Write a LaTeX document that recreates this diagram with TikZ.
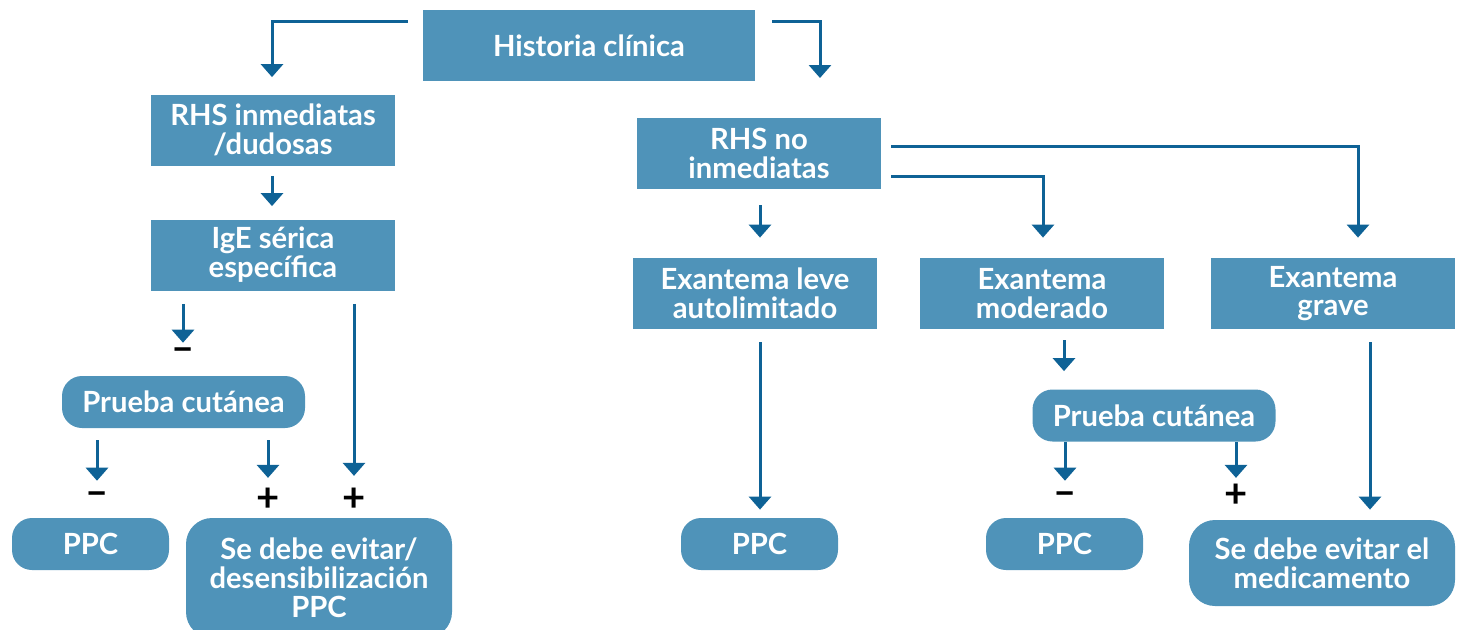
\documentclass[tikz,border=0pt]{standalone}
\usepackage{fontspec}
\setmainfont{Lato}
\usetikzlibrary{arrows.meta,calc,positioning}
\definecolor{boxblue}{RGB}{79,147,185}
\definecolor{arrblue}{RGB}{14,98,150}
\begin{document}
\begin{tikzpicture}[x=0.5pt,y=-0.5pt,
  every node/.style={font=\fontsize{14.6}{14.4}\selectfont\bfseries, text=white, align=center, inner sep=0pt},
  sqbox/.style={fill=boxblue, minimum width=122pt, minimum height=35.5pt},
  rbox/.style={fill=boxblue, rounded corners=10pt, minimum height=26pt},
  sign/.style={text=black, font=\fontsize{20}{20}\selectfont\bfseries},
  arr/.style={draw=arrblue, line width=1.5pt, -{Triangle[width=11pt,length=6.5pt]}},
  conn/.style={draw=arrblue, line width=1.5pt}
]
\useasboundingbox (0,0) rectangle (1458,629);

% nodes
\node[sqbox, minimum width=166pt] (hc) at (589,45.5) {Historia clínica};
\node[sqbox] (rhsi) at (273,130) {RHS inmediatas\\/dudosas};
\node[sqbox] (ige) at (273,255) {IgE sérica\\específica};
\node[rbox, minimum width=121.5pt] (pcl) at (183.5,402) {Prueba cutánea};
\node[rbox, minimum width=78.5pt] (ppcl) at (90.5,544) {PPC};
\node[rbox, minimum width=133pt, minimum height=60pt, rounded corners=13pt] (evl) at (319,578) {Se debe evitar/\\desensibilización\\PPC};

\node[sqbox] (rhsn) at (759,153.5) {RHS no\\inmediatas};
\node[sqbox] (leve) at (755,293.5) {Exantema leve\\autolimitado};
\node[sqbox] (mod) at (1042,293.5) {Exantema\\moderado};
\node[sqbox] (grave) at (1333,293.5) {Exantema\\grave};
\node[rbox, minimum width=78.5pt] (ppcm) at (759.5,544) {PPC};
\node[rbox, minimum width=121.5pt] (pcr) at (1154,415.5) {Prueba cutánea};
\node[rbox, minimum width=78.5pt] (ppcr) at (1064.5,544) {PPC};
\node[rbox, minimum width=133pt, minimum height=43pt, rounded corners=13pt] (evr) at (1322,563) {Se debe evitar el\\medicamento};

% signs
\node[sign] (m1) at (183,355) {–};
\node[sign] (m2) at (97,499) {–};
\node[sign] (p1) at (268,500) {+};
\node[sign] (p2) at (354,500) {+};
\node[sign] (m3) at (1065,499) {–};
\node[sign] (p3) at (1236,496) {+};

% connectors
\coordinate (hcR) at (820,78);
\draw[arr] ($(hc.north west)+(-15,12)$) -| ($(rhsi.north)+(-1,-17)$);
\draw[arr] ($(hc.north east)+(17,12)$) -| (hcR);
\draw[arr] ($(rhsi.south)+(-1,10)$) -- ($(ige.north)+(-1,-13)$);
\draw[arr] ($(ige.south)+(-90,13)$) -- ($(m1.north)+(0,-5)$);
\draw[arr] ($(ige.south)+(81,13)$) -- ($(p2.north)+(0,-12)$);
\draw[arr] ($(pcl.south)+(-86.5,12)$) -- ($(m2.north)+(0,-11)$);
\draw[arr] ($(pcl.south)+(84.5,12)$) -- ($(p1.north)+(0,-10)$);

\draw[conn, -{Triangle[width=11pt,length=6.5pt]}] ($(rhsn.east)+(10,-7.5)$) -| ($(grave.north)+(25,-20)$);
\draw[arr] ($(rhsn.east)+(10,22.5)$) -| ($(mod.north)+(1,-20)$);
\draw[arr] ($(rhsn.south)+(1,16)$) -- ($(leve.north)+(5,-20)$);
\draw[arr] ($(leve.south)+(5,13)$) -- ($(ppcm.north)+(0.5,-8)$);
\draw[arr] ($(mod.south)+(22,11)$) -- ($(pcr.north)+(-90,-18)$);
\draw[arr] ($(pcr.south)+(-89,0)$) -- ($(m3.north)+(0,-11)$);
\draw[arr] ($(pcr.south)+(82,0)$) -- ($(p3.north)+(0,-6)$);
\draw[arr] ($(grave.south)+(37,13)$) -- ($(evr.north)+(48,-10)$);
\end{tikzpicture}
\end{document}
